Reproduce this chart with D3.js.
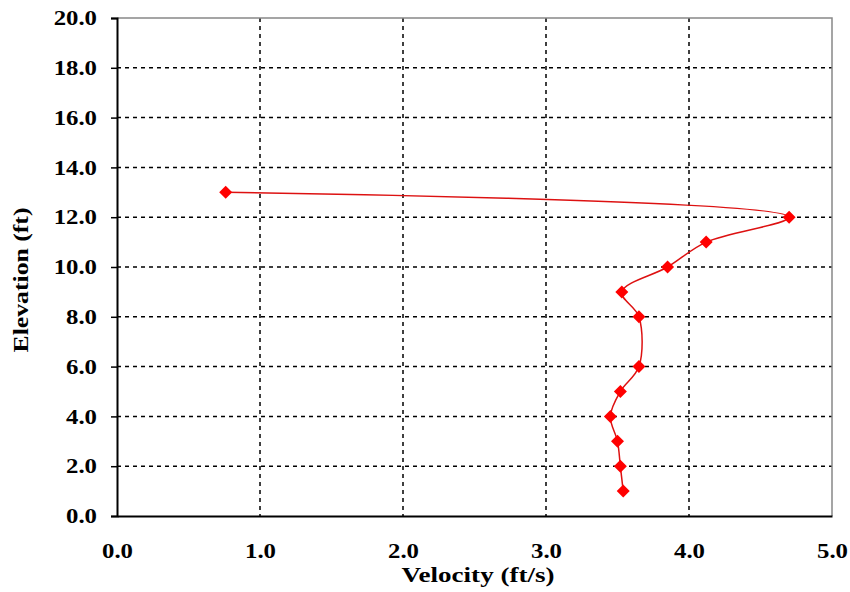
<!DOCTYPE html>
<html><head><meta charset="utf-8">
<script src="https://cdn.jsdelivr.net/npm/d3@7"></script>
<style>body{margin:0;background:#fff}svg{display:block}
.t{font-family:"Liberation Serif","DejaVu Serif",serif;font-weight:bold;fill:#000}</style>
</head><body>
<svg id="c" width="850" height="592"></svg>
<script>
const elevation = [13.0, 12.0, 11.0, 10.0, 9.0, 8.0, 6.0, 5.0, 4.0, 3.0, 2.0, 1.0];
const velocity  = [0.76, 4.70, 4.12, 3.85, 3.53, 3.65, 3.65, 3.52, 3.45, 3.50, 3.52, 3.54];
const xTicks = [0, 1, 2, 3, 4, 5];
const yTicks = [0, 2, 4, 6, 8, 10, 12, 14, 16, 18, 20];
const xTitle = "Velocity (ft/s)";
const yTitle = "Elevation (ft)";

const svg = d3.select("#c");
const L = 117, R = 832, T = 18, B = 516;
const x = d3.scaleLinear().domain([0, 5]).range([L, R]);
const y = d3.scaleLinear().domain([0, 20]).range([B, T]);

// gridlines
svg.append("g").selectAll("line").data(yTicks.filter(d => d > 0 && d < 20)).join("line")
  .attr("x1", L).attr("x2", R).attr("y1", d => y(d)).attr("y2", d => y(d))
  .attr("stroke", "#000").attr("stroke-width", 1.5).attr("stroke-dasharray", "4,4");
svg.append("g").selectAll("line").data(xTicks.filter(d => d > 0 && d < 5)).join("line")
  .attr("y1", T).attr("y2", B).attr("x1", d => x(d)).attr("x2", d => x(d))
  .attr("stroke", "#000").attr("stroke-width", 1.5).attr("stroke-dasharray", "4,4");

// frame (top/right gray)
svg.append("path").attr("d", `M${L},${T}H${R}V${B}`).attr("fill", "none")
  .attr("stroke", "#888").attr("stroke-width", 1.5);

// axes
const yAxis = svg.append("g").attr("transform", `translate(${L},0)`)
  .call(d3.axisLeft(y).tickValues(yTicks).tickFormat(d3.format(".1f")).tickSize(6).tickPadding(14));
const xAxis = svg.append("g").attr("transform", `translate(0,${B})`)
  .call(d3.axisBottom(x).tickValues(xTicks).tickFormat(d3.format(".1f")).tickSize(0).tickPadding(27));
[xAxis, yAxis].forEach(a => {
  a.attr("font-family", null).attr("font-size", null);
  a.select(".domain").attr("stroke", "#000").attr("stroke-width", 2);
  a.selectAll(".tick line").attr("stroke", "#000").attr("stroke-width", 1.5);
  a.selectAll("text").attr("class", "t").attr("fill", null).style("font-size", "21px")
    .each(function () {
      const w = this.getComputedTextLength();
      d3.select(this).attr("textLength", w * 1.18).attr("lengthAdjust", "spacingAndGlyphs");
    });
});

// line
const pts = velocity.map((v, i) => [v, elevation[i]]);
const line = d3.line().x(d => x(d[0])).y(d => y(d[1])).curve(d3.curveCatmullRom.alpha(0.5));
svg.append("path").attr("d", line(pts)).attr("fill", "none")
  .attr("stroke", "#dd1111").attr("stroke-width", 1.5);

// markers
svg.append("g").selectAll("path").data(pts).join("path")
  .attr("transform", d => `translate(${x(d[0])},${y(d[1])})`)
  .attr("d", "M0,-6.5L6.5,0L0,6.5L-6.5,0Z").attr("fill", "#ff0000");

// titles
svg.append("text").attr("class", "t").attr("x", 478).attr("y", 582).attr("text-anchor", "middle")
  .style("font-size", "21px").attr("textLength", 153).attr("lengthAdjust", "spacingAndGlyphs").text(xTitle);
svg.append("text").attr("class", "t").attr("transform", `translate(28,280) rotate(-90)`)
  .attr("text-anchor", "middle").style("font-size", "21px")
  .attr("textLength", 145).attr("lengthAdjust", "spacingAndGlyphs").text(yTitle);
</script>
</body></html>
